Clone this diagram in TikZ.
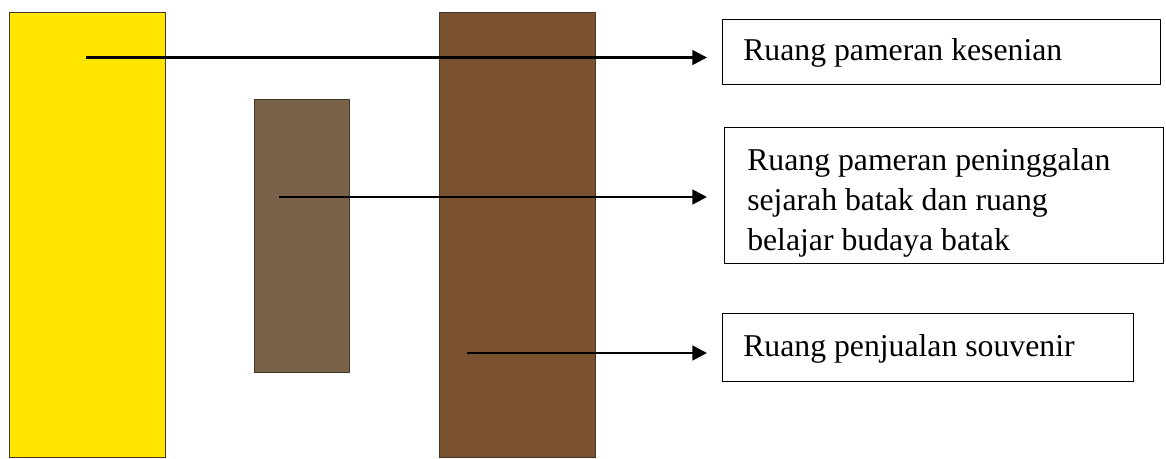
\documentclass[tikz,border=0pt]{standalone}
\usepackage{fontspec}
\setmainfont{Liberation Serif}
\usetikzlibrary{arrows.meta}
\definecolor{yel}{RGB}{255,229,0}
\definecolor{brownS}{RGB}{122,97,74}
\definecolor{brownB}{RGB}{123,82,48}
\definecolor{edge}{RGB}{70,55,40}
\begin{document}
\begin{tikzpicture}[x=0.75pt,y=-0.75pt,
  block/.style={draw=edge,line width=0.6pt},
  frame/.style={draw=black,line width=0.9pt,inner sep=0pt,anchor=north west},
  txt/.style={inner sep=0pt,align=left,font=\fontsize{23.8}{30}\selectfont,anchor=west},
  conn/.style={line width=2pt,-{Triangle[length=11pt,width=11pt]}}]
\useasboundingbox (0,0) rectangle (1166,458);
\fill[white] (0,0) rectangle (1166,458);
\draw[block,fill=yel] (9,12) rectangle (165,457);
\draw[block,fill=brownS] (254,99) rectangle (349,372);
\draw[block,fill=brownB] (439,12) rectangle (595,457);
\node[frame,minimum width=438*0.75pt,minimum height=65*0.75pt] (b1) at (722,19) {};
\node[frame,minimum width=439*0.75pt,minimum height=136*0.75pt] (b2) at (724,127) {};
\node[frame,minimum width=411*0.75pt,minimum height=68*0.75pt] (b3) at (722,313) {};
\node[txt] (l1) at ([xshift=21*0.75pt,yshift=-1*0.75pt]b1.west) {Ruang pameran kesenian};
\node[txt] (l2) at ([xshift=23*0.75pt,yshift=-7*0.75pt]b2.west) {Ruang pameran peninggalan\\sejarah batak dan ruang\\belajar budaya batak};
\node[txt] (l3) at ([xshift=21*0.75pt,yshift=-1*0.75pt]b3.west) {Ruang penjualan souvenir};
\coordinate (s1) at (86,57.5);
\coordinate (t1) at (707,57.5);
\coordinate (s2) at (279,197);
\coordinate (t2) at (707,197);
\coordinate (s3) at (467,353);
\coordinate (t3) at (707,353);
\draw[conn] (s1) -- (t1);
\draw[conn] (s2) -- (t2);
\draw[conn] (s3) -- (t3);
\end{tikzpicture}
\end{document}
